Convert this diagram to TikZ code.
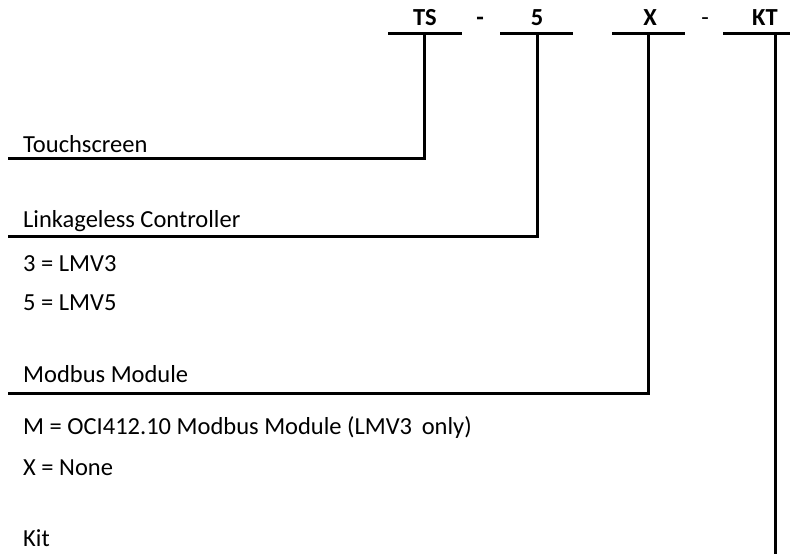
\documentclass[tikz,border=0pt]{standalone}
\usepackage{fontspec}
\setmainfont{Carlito}
\begin{document}
\begin{tikzpicture}[
  x=1pt, y=-1pt,
  every node/.style={font=\fontsize{24.5}{29}\selectfont, inner sep=0pt},
  code/.style={font=\fontsize{24.5}{29}\selectfont\bfseries, anchor=base},
  item/.style={anchor=base west},
  bar/.style={draw, line width=3pt},
  lead/.style={draw, line width=3pt}
]
  \useasboundingbox (0,0) rectangle (790,554);
  % part number
  \node[code] (ts) at (425,25) {TS};
  \node[code] (dasha) at (480,25) {-};
  \node[code] (five) at (537,25) {5};
  \node[code] (modx) at (650,25) {X};
  \node[anchor=base] (dashb) at (705,25) {-};
  \node[code] (kt) at (765,25) {KT};
  \coordinate (tsbar) at (424,33);
  \coordinate (fivebar) at (537,33);
  \coordinate (modxbar) at (648,33);
  \coordinate (ktbar) at (775,33);
  \draw[bar] (388,33) -- (462,33);
  \draw[bar] (500,33) -- (573,33);
  \draw[bar] (612,33) -- (685,33);
  \draw[bar] (723,33) -- (795,33);
  % left ends of the leads
  \coordinate (tsend) at (8,158);
  \coordinate (fiveend) at (8,236);
  \coordinate (modxend) at (8,393);
  \coordinate (ktend) at (775,560);
  \draw[lead] (tsbar) |- (tsend);
  \draw[lead] (fivebar) |- (fiveend);
  \draw[lead] (modxbar) |- (modxend);
  \draw[lead] (ktbar) -- (ktend);
  % descriptions
  \node[item] (touch) at (23,152) {Touchscreen};
  \node[item] (ctrl) at (23,227) {Linkageless Controller};
  \node[item] (lmvthree) at (23,271) {3 = LMV3};
  \node[item] (lmvfive) at (23,310) {5 = LMV5};
  \node[item] (modbus) at (23,382) {Modbus Module};
  \node[item] (oci) at (23,434) {M = OCI412.10 Modbus Module (LMV3\, only)};
  \node[item] (none) at (23,475) {X = None};
  \node[item] (kit) at (23,546) {Kit};
\end{tikzpicture}
\end{document}
